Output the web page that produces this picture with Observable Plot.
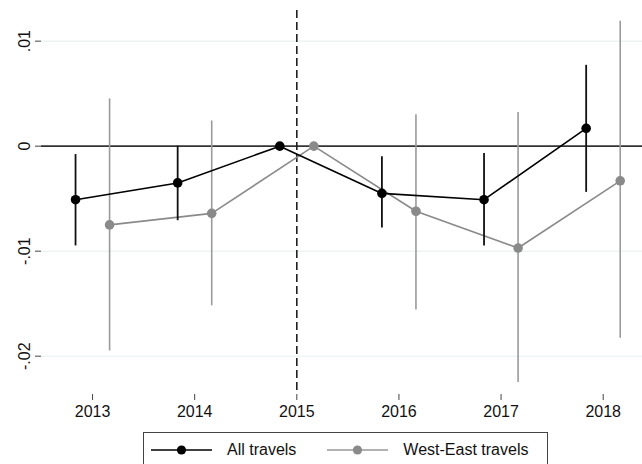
<!DOCTYPE html>
<html>
<head>
<meta charset="utf-8">
<script src="https://cdn.jsdelivr.net/npm/d3@7"></script>
<script src="https://cdn.jsdelivr.net/npm/@observablehq/plot@0.6"></script>
<style>
  html, body { margin: 0; padding: 0; background: #fff; }
  body { width: 642px; height: 464px; overflow: hidden; font-family: "Liberation Sans", Arial, Helvetica, sans-serif; }
  #legend { position: absolute; left: 143px; top: 432px; width: 405px; height: 36px; border: 1px solid #444; box-sizing: border-box; display: flex; align-items: center; font-size: 16px; color: #111; }
  .item { display: flex; align-items: center; }
  .item svg { display: block; }
</style>
</head>
<body>
<div id="chart"></div>
<div id="legend"></div>
<script>
// ---- data ----
const years = [2013, 2014, 2015, 2016, 2017, 2018];
const xTickLabels = ["2013", "2014", "2015", "2016", "2017", "2018"];
const seriesNames = ["All travels", "West-East travels"];
const allEst = [-0.0051, -0.0035, 0, -0.0045, -0.0051, 0.0017];
const allLo  = [-0.0095, -0.0071, 0, -0.0078, -0.0095, -0.0044];
const allHi  = [-0.0008,  0.0000, 0, -0.0010, -0.0007, 0.0077];
const weEst  = [-0.0075, -0.0064, 0, -0.0062, -0.0097, -0.0033];
const weLo   = [-0.0195, -0.0152, 0, -0.0156, -0.0225, -0.0183];
const weHi   = [ 0.0045,  0.0024, 0,  0.0030,  0.0032,  0.0119];
const yTicks = [0.01, 0, -0.01, -0.02];
const yTickLabels = [".01", "0", "-.01", "-.02"];
const refYear = 2015;

// ---- build table ----
const dodge = 1 / 6;
const colors = {"All travels": "#000000", "West-East travels": "#8a8a8a"};
const ciColors = {"All travels": "#111111", "West-East travels": "#9a9a9a"};
function rows(name, est, lo, hi, off) {
  return years.map((y, i) => ({series: name, year: y, x: y + off, est: est[i], lo: lo[i], hi: hi[i]}));
}
const data = [
  ...rows(seriesNames[0], allEst, allLo, allHi, -dodge),
  ...rows(seriesNames[1], weEst, weLo, weHi, dodge)
];
const ci = data.filter(d => d.lo !== d.hi);
const gridTicks = yTicks.filter(t => t !== 0);

const plot = Plot.plot({
  width: 642,
  height: 425,
  marginTop: 10,
  marginBottom: 31,
  marginLeft: 41,
  marginRight: 0,
  style: {fontFamily: "'Liberation Sans', Arial, Helvetica, sans-serif", fontSize: "16px", color: "#111", background: "#fff"},
  x: {domain: [2012.5, 2018.385]},
  y: {domain: [-0.02365, 0.01292]},
  marks: [
    Plot.ruleY(gridTicks, {stroke: "#e6eeee", strokeWidth: 1}),
    Plot.ruleY([0], {stroke: "#333", strokeWidth: 1.6}),
    Plot.ruleX([refYear], {stroke: "#222", strokeWidth: 1.6, strokeDasharray: "8,4"}),
    Plot.ruleX(ci.filter(d => d.series === seriesNames[1]), {x: "x", y1: "lo", y2: "hi", stroke: ciColors[seriesNames[1]], strokeWidth: 1.6}),
    Plot.line(data.filter(d => d.series === seriesNames[1]), {x: "x", y: "est", stroke: colors[seriesNames[1]], strokeWidth: 1.6}),
    Plot.dot(data.filter(d => d.series === seriesNames[1]), {x: "x", y: "est", r: 4.8, fill: colors[seriesNames[1]], stroke: "none"}),
    Plot.ruleX(ci.filter(d => d.series === seriesNames[0]), {x: "x", y1: "lo", y2: "hi", stroke: ciColors[seriesNames[0]], strokeWidth: 1.8}),
    Plot.line(data.filter(d => d.series === seriesNames[0]), {x: "x", y: "est", stroke: colors[seriesNames[0]], strokeWidth: 1.6}),
    Plot.dot(data.filter(d => d.series === seriesNames[0]), {x: "x", y: "est", r: 4.8, fill: colors[seriesNames[0]], stroke: "none"}),
    Plot.axisX({ticks: years, tickFormat: (d, i) => xTickLabels[years.indexOf(d)], tickSize: 6, tickPadding: 5, stroke: "#444", line: true, label: null}),
    Plot.axisY({ticks: yTicks, tickFormat: d => yTickLabels[yTicks.indexOf(d)], tickSize: 6, tickPadding: 6, tickRotate: -90, stroke: "#444", line: true, label: null})
  ]
});
document.getElementById("chart").appendChild(plot);

// ---- legend ----
const legend = document.getElementById("legend");
seriesNames.forEach((name, i) => {
  const item = document.createElement("div");
  item.className = "item";
  item.style.marginLeft = i === 0 ? "7px" : "31px";
  const sw = d3.create("svg").attr("width", 61).attr("height", 14);
  sw.append("line").attr("x1", 0).attr("x2", 61).attr("y1", 7).attr("y2", 7)
    .attr("stroke", i === 0 ? "#000" : "#999").attr("stroke-width", 1.6);
  sw.append("circle").attr("cx", 30.5).attr("cy", 7).attr("r", 4.6).attr("fill", colors[name]);
  item.appendChild(sw.node());
  const t = document.createElement("span");
  t.textContent = name;
  t.style.marginLeft = "15px";
  item.appendChild(t);
  legend.appendChild(item);
});
</script>
</body>
</html>
